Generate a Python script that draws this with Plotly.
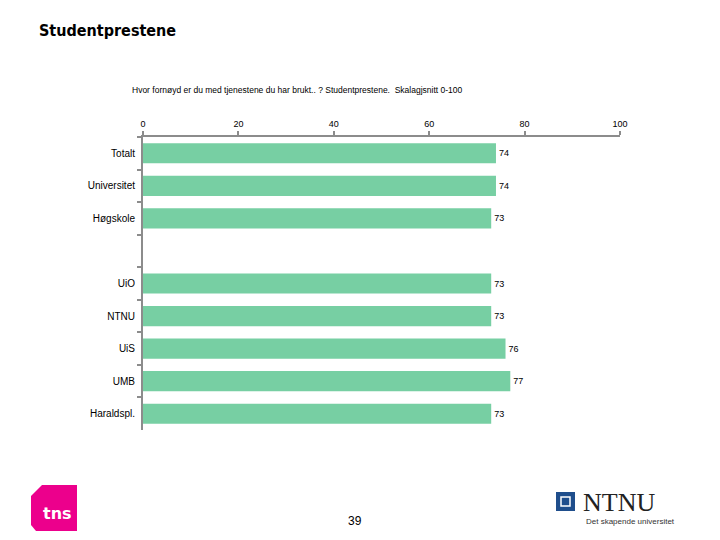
import plotly.graph_objects as go

categories = ["Totalt", "Universitet", "Høgskole", " ", "UiO", "NTNU", "UiS", "UMB", "Haraldspl."]
values = [74, 74, 73, None, 73, 73, 76, 77, 73]
labels = ["74", "74", "73", "", "73", "73", "76", "77", "73"]
x_ticks = [0, 20, 40, 60, 80, 100]

title_text = "Studentprestene"
subtitle_text = "Hvor fornøyd er du med tjenestene du har brukt.. ? Studentprestene.  Skalagjsnitt 0-100"
page_no = "39"

fig = go.Figure()
fig.add_trace(go.Bar(
    y=categories, x=values, orientation="h",
    marker=dict(color="#77CFA3", line=dict(width=0)),
    width=0.62,
    text=labels, textposition="outside", cliponaxis=False,
    textfont=dict(family="Liberation Sans, Arial", size=9, color="#000000"),
    hoverinfo="skip",
))

fig.update_layout(
    width=720, height=540,
    margin=dict(l=143, r=100, t=137, b=110),
    paper_bgcolor="white", plot_bgcolor="white",
    showlegend=False,
    xaxis=dict(
        side="top", range=[0, 100], tickvals=x_ticks,
        showgrid=False, zeroline=False,
        showline=True, linecolor="#8c8c8c", linewidth=2,
        ticks="outside", ticklen=4, tickcolor="#8c8c8c", tickwidth=2,
        tickfont=dict(family="Liberation Sans, Arial", size=9, color="#000000"),
        fixedrange=True,
    ),
    yaxis=dict(
        type="category", categoryorder="array", categoryarray=categories,
        autorange="reversed",
        showgrid=False, zeroline=False,
        showline=True, linecolor="#8c8c8c", linewidth=2,
        ticks="outside", ticklen=4, tickcolor="#8c8c8c", tickwidth=2,
        tickson="boundaries",
        tickfont=dict(family="Liberation Sans, Arial", size=10, color="#000000"),
        ticklabelstandoff=4,
        fixedrange=True,
    ),
)


def px(xp):
    return (xp - 143) / 477


def py(yp):
    return 1 - (yp - 137) / 293


fig.add_annotation(text="<b>" + title_text + "</b>", xref="paper", yref="paper",
                   x=px(37), y=py(30), xanchor="left", yanchor="middle",
                   showarrow=False, font=dict(family="DejaVu Sans Condensed, DejaVu Sans", size=16, color="#000000"))
fig.add_annotation(text=subtitle_text, xref="paper", yref="paper",
                   x=px(130), y=py(90), xanchor="left", yanchor="middle",
                   showarrow=False, font=dict(family="Liberation Sans Narrow, Liberation Sans, Arial", size=8.5, color="#000000"))
fig.add_annotation(text=page_no, xref="paper", yref="paper",
                   x=px(355), y=py(521), xanchor="center", yanchor="middle",
                   showarrow=False, font=dict(family="Liberation Sans Narrow, Liberation Sans", size=12, color="#000000"))

# tns logo
fig.add_shape(type="path", xref="paper", yref="paper",
              path=f"M {px(42)},{py(485)} L {px(77)},{py(485)} L {px(77)},{py(531)} L {px(36)},{py(531)} L {px(31)},{py(525)} L {px(31)},{py(496)} Z",
              fillcolor="#EC008C", line=dict(width=0), layer="above")
fig.add_annotation(text="<b>tns</b>", xref="paper", yref="paper", x=px(57), y=py(513),
                   xanchor="center", yanchor="middle", showarrow=False,
                   font=dict(family="DejaVu Sans, Arial", size=16, color="white"))

# NTNU logo
fig.add_shape(type="rect", xref="paper", yref="paper", x0=px(556), x1=px(575), y0=py(511), y1=py(492),
              fillcolor="#1F4E8C", line=dict(width=0))
fig.add_shape(type="rect", xref="paper", yref="paper", x0=px(561), x1=px(570), y0=py(506), y1=py(497),
              fillcolor="#1F4E8C", line=dict(color="white", width=1.5))
fig.add_annotation(text="NTNU", xref="paper", yref="paper", x=px(581), y=py(502),
                   xanchor="left", yanchor="middle", showarrow=False,
                   font=dict(family="Liberation Serif, serif", size=26, color="#222222"))
fig.add_annotation(text="Det skapende universitet", xref="paper", yref="paper", x=px(584), y=py(521),
                   xanchor="left", yanchor="middle", showarrow=False,
                   font=dict(family="Liberation Sans Narrow, Liberation Sans", size=8, color="#333333"))

fig.write_html("out.html", config={"displayModeBar": False},
               post_script="document.body.style.margin='0';")
